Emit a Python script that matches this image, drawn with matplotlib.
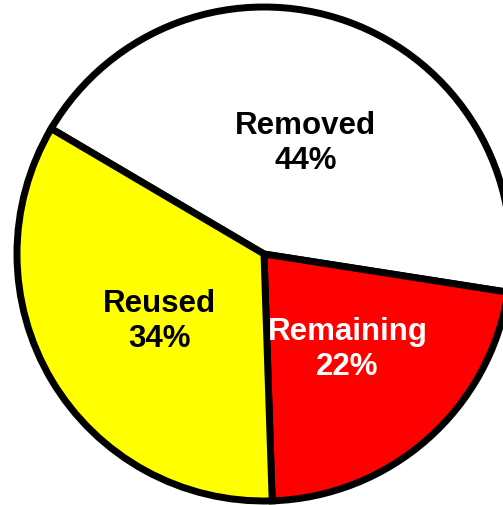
import numpy as np
import matplotlib.pyplot as plt

# data
categories = ['Removed', 'Remaining', 'Reused']
shares = [44, 22, 34]
colors = ['#FFFFFF', '#FF0000', '#FFFF00']
text_colors = ['black', 'white', 'black']

plt.rcParams['font.family'] = ['Liberation Sans', 'DejaVu Sans']

fig = plt.figure(figsize=(5.03, 5.06), dpi=100)
ax = fig.add_axes([0, 0, 1, 1])

labels = [f'{c}\n{s}%' for c, s in zip(categories, shares)]
wedges, texts = ax.pie(shares, labels=labels, colors=colors, startangle=149.5,
                       counterclock=False, labeldistance=0.51,
                       wedgeprops=dict(edgecolor='black', linewidth=5))

# label radius and small angle nudge (deg) per wedge
label_r = [0.48, 0.51, 0.5]
label_da = [-0.8, 0, 1.7]
for w, t, col, r, da in zip(wedges, texts, text_colors, label_r, label_da):
    mid = np.deg2rad((w.theta1 + w.theta2) / 2 + da)
    t.set_position((r * np.cos(mid), r * np.sin(mid)))
    t.set_ha('center')
    t.set_va('center')
    t.set_color(col)
    t.set_fontsize(22.5)
    t.set_fontweight('bold')
    t.set_linespacing(1.22)

# circle centre at (264, 255) px, radius 247 px
ax.set_aspect('auto')
ax.set_xlim(-264 / 247, (503 - 264) / 247)
ax.set_ylim(-(506 - 255) / 247, 255 / 247)
ax.axis('off')

fig.savefig('out.png', dpi=100)
